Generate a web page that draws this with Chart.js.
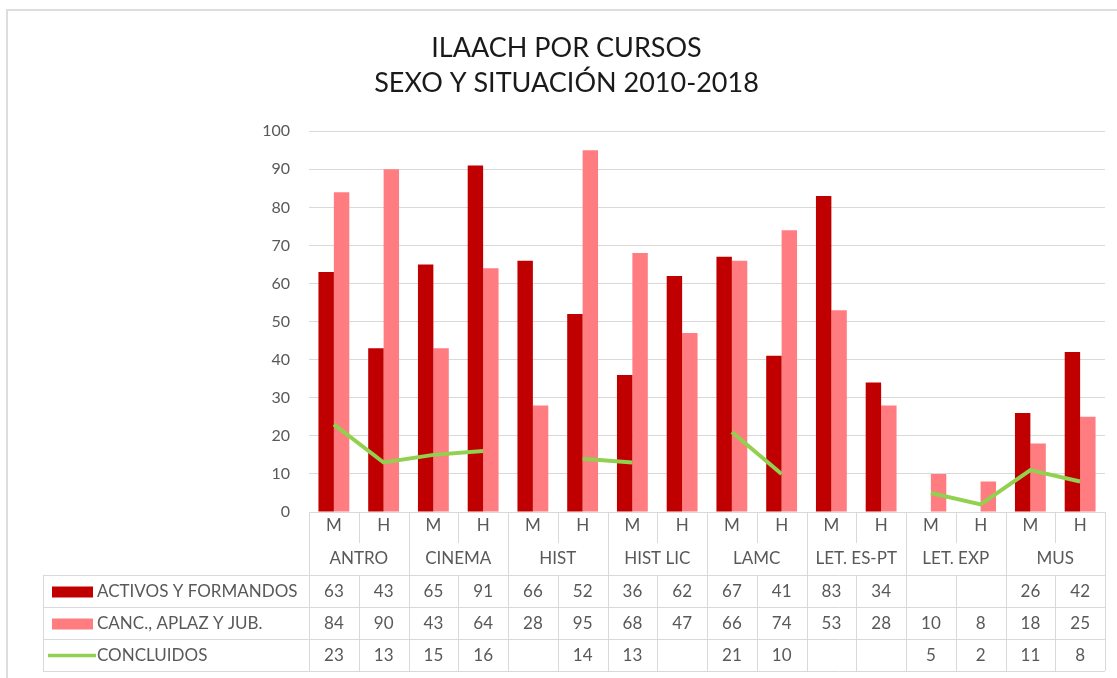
<!DOCTYPE html>
<html>
<head>
<meta charset="utf-8">
<title>ILAACH por cursos</title>
<script src="https://cdn.jsdelivr.net/npm/chart.js@4.4.1/dist/chart.umd.min.js"></script>
<style>
  html, body { margin: 0; padding: 0; background: #fff; }
  #wrap { position: relative; width: 1117px; height: 678px; overflow: hidden; }
  #frame { position: absolute; left: 6px; top: 9px; width: 1200px; height: 800px;
           border-top: 2px solid #dddddd; border-left: 2px solid #dddddd; pointer-events: none; }
  canvas { position: absolute; left: 0; top: 0; }
</style>
</head>
<body>
<div id="wrap">
  <canvas id="myChart" width="1117" height="678"></canvas>
  <div id="frame"></div>
</div>
<script>
'use strict';

// ******* DATA *******
let groups = ['ANTRO', 'CINEMA', 'HIST', 'HIST LIC', 'LAMC', 'LET. ES-PT', 'LET. EXP', 'MUS'];
let sexes = ['M', 'H'];

let activos = [63, 43, 65, 91, 66, 52, 36, 62, 67, 41, 83, 34, null, null, 26, 42];
let canc = [84, 90, 43, 64, 28, 95, 68, 47, 66, 74, 53, 28, 10, 8, 18, 25];
let concluidos = [23, 13, 15, 16, null, 14, 13, null, 21, 10, null, null, 5, 2, 11, 8];

let yMin = 0;
let yMax = 100;
let yStep = 10;

let titleLines = ['ILAACH POR CURSOS', 'SEXO Y SITUACIÓN 2010-2018'];
let seriesNames = ['ACTIVOS Y FORMANDOS', 'CANC., APLAZ Y JUB.', 'CONCLUIDOS'];

// ******* STYLE *******
const darkRed = '#C00000';
const lightRed = '#FF7C80';
const green = '#92D050';
const textGrey = '#595959';
const lineGrey = '#d9d9d9';
const fontFamily = 'Lato, "Open Sans", sans-serif';

// one label per column: group + sex
let labels = [];
for (let g = 0; g < groups.length; g++) {
  for (let s = 0; s < sexes.length; s++) {
    labels.push(groups[g] + ' ' + sexes[s]);
  }
}

// ******* TABLE UNDER THE CHART *******
const tablePlugin = {
  id: 'dataTable',
  afterDraw(chart) {
    const ctx = chart.ctx;
    const x = chart.scales.x;
    const area = chart.chartArea;
    const colW = x.getPixelForValue(1) - x.getPixelForValue(0);
    const top = area.bottom;
    const tableTop = top + 63;
    const rowH = 32;
    const tableLeft = 43;
    const right = area.right;

    ctx.save();
    ctx.strokeStyle = lineGrey;
    ctx.lineWidth = 1;

    // horizontal rows
    for (let r = 0; r <= 3; r++) {
      let y = Math.round(tableTop + r * rowH) + 0.5;
      ctx.beginPath();
      ctx.moveTo(tableLeft, y);
      ctx.lineTo(right, y);
      ctx.stroke();
    }
    // left edge of legend column
    ctx.beginPath();
    ctx.moveTo(tableLeft + 0.5, tableTop);
    ctx.lineTo(tableLeft + 0.5, tableTop + 3 * rowH);
    ctx.stroke();

    // column lines: full height between groups, short between M and H
    for (let i = 0; i <= labels.length; i++) {
      let xp = Math.round(x.getPixelForValue(i) - colW / 2) + 0.5;
      if (i % 2 === 1) {
        ctx.beginPath();
        ctx.moveTo(xp, top);
        ctx.lineTo(xp, top + 31);
        ctx.stroke();
        ctx.beginPath();
        ctx.moveTo(xp, tableTop);
        ctx.lineTo(xp, tableTop + 3 * rowH);
        ctx.stroke();
      } else {
        ctx.beginPath();
        ctx.moveTo(xp, top);
        ctx.lineTo(xp, tableTop + 3 * rowH);
        ctx.stroke();
      }
    }

    // texts
    ctx.fillStyle = textGrey;
    ctx.font = '17px ' + fontFamily;
    ctx.textAlign = 'center';
    ctx.textBaseline = 'middle';

    for (let i = 0; i < labels.length; i++) {
      ctx.fillText(sexes[i % 2], x.getPixelForValue(i), top + 14);
    }
    for (let g = 0; g < groups.length; g++) {
      let cx = (x.getPixelForValue(g * 2) + x.getPixelForValue(g * 2 + 1)) / 2;
      ctx.fillText(groups[g], cx, top + 47);
    }

    let rows = [activos, canc, concluidos];
    for (let r = 0; r < rows.length; r++) {
      let cy = tableTop + r * rowH + rowH / 2 + 0.5;
      for (let i = 0; i < rows[r].length; i++) {
        if (rows[r][i] !== null) {
          ctx.fillText(String(rows[r][i]), x.getPixelForValue(i), cy);
        }
      }
      // legend key + name
      if (r < 2) {
        ctx.fillStyle = r === 0 ? darkRed : lightRed;
        ctx.fillRect(52, cy - 5, 41, 11);
      } else {
        ctx.strokeStyle = green;
        ctx.lineWidth = 3.5;
        ctx.beginPath();
        ctx.moveTo(48, cy);
        ctx.lineTo(96, cy);
        ctx.stroke();
      }
      ctx.fillStyle = textGrey;
      ctx.textAlign = 'left';
      ctx.fillText(seriesNames[r], 97, cy);
      ctx.textAlign = 'center';
    }
    ctx.restore();
  }
};

// ******* CHART *******
const ctx = document.getElementById('myChart').getContext('2d');
const myChart = new Chart(ctx, {
  type: 'bar',
  data: {
    labels: labels,
    datasets: [
      {
        type: 'line',
        label: seriesNames[2],
        data: concluidos,
        borderColor: green,
        backgroundColor: green,
        borderWidth: 4,
        pointRadius: 0,
        tension: 0,
        spanGaps: false,
        order: 0
      },
      {
        label: seriesNames[0],
        data: activos,
        backgroundColor: darkRed,
        borderWidth: 0,
        order: 1
      },
      {
        label: seriesNames[1],
        data: canc,
        backgroundColor: lightRed,
        borderWidth: 0,
        order: 2
      }
    ]
  },
  options: {
    responsive: false,
    animation: false,
    categoryPercentage: 0.62,
    barPercentage: 1,
    layout: {
      padding: { top: 0, left: 28, right: 12, bottom: 166 }
    },
    plugins: {
      legend: { display: false },
      tooltip: { enabled: false },
      title: {
        display: true,
        text: titleLines,
        color: '#1a1a1a',
        font: { family: fontFamily, size: 27, weight: 'normal', lineHeight: 1.3 },
        padding: { top: 31, bottom: 30 }
      }
    },
    scales: {
      x: {
        display: false
      },
      y: {
        min: yMin,
        max: yMax,
        ticks: {
          stepSize: yStep,
          color: textGrey,
          padding: 19,
          font: { family: fontFamily, size: 16 }
        },
        grid: { color: lineGrey, drawTicks: false },
        border: { display: false },
        afterFit(scale) {
          scale.width = 281;
        }
      }
    }
  },
  plugins: [tablePlugin]
});
</script>
</body>
</html>
